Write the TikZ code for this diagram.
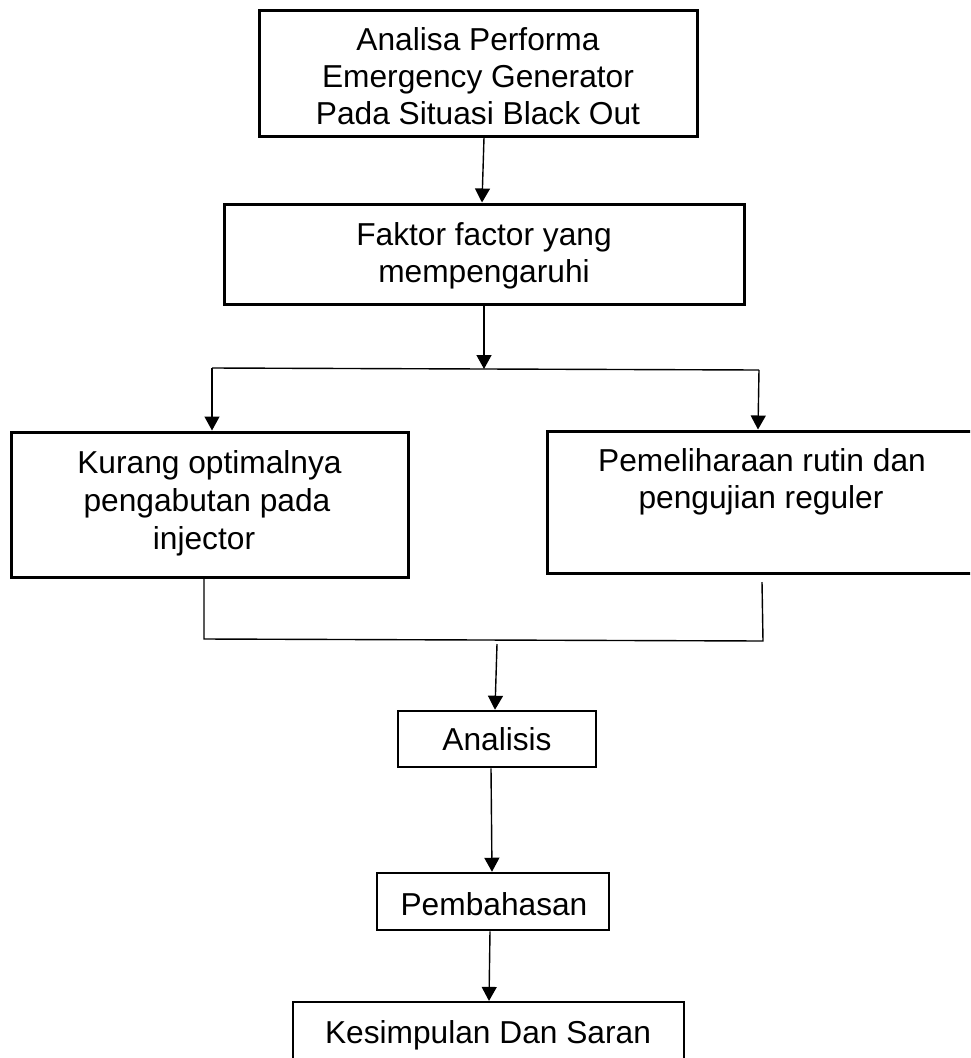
\documentclass[tikz,border=0pt]{standalone}
\usepackage{fontspec}
\setmainfont{Liberation Sans}
\usetikzlibrary{arrows.meta}
\tikzset{
  box/.style={draw=black, line width=3pt, rectangle, inner sep=0pt, fill=none},
  smallbox/.style={box, line width=2.5pt},
  txt/.style={font=\fontsize{31.7}{38}\selectfont, inner sep=0pt, anchor=base},
  conn/.style={draw=black, line width=1.4pt},
  arr/.style={conn, -{Triangle[width=15pt,length=14pt]}}
}
\begin{document}
\begin{tikzpicture}[x=1pt,y=-1pt]
\useasboundingbox (0,0) rectangle (970,1058);
\clip (0,0) rectangle (970,1058);
\fill[white] (0,0) rectangle (970,1058);

% boxes
\node[box, minimum width=438pt, minimum height=126pt] (b1) at (478,73) {};
\node[box, minimum width=520pt, minimum height=100pt] (b2) at (484,254) {};
\node[box, minimum width=397pt, minimum height=145pt] (b3) at (209.5,504.5) {};
\node[box, minimum width=438pt, minimum height=142pt] (b4) at (766,502) {};
\node[smallbox, minimum width=198pt, minimum height=56pt] (b5) at (497,739) {};
\node[smallbox, minimum width=232pt, minimum height=57pt] (b6) at (493,901.5) {};
\node[smallbox, line width=2.2pt, minimum width=391pt, minimum height=80pt] (b7) at (488.5,1042) {};

% texts
\node[txt] (t1a) at (478,50) {Analisa Performa};
\node[txt] (t1b) at (478,87.5) {Emergency Generator};
\node[txt] (t1c) at (478,124.5) {Pada Situasi Black Out};
\node[txt] (t2a) at (484,245) {Faktor factor yang};
\node[txt] (t2b) at (484,282) {mempengaruhi};
\node[txt] (t3a) at (209.5,473) {Kurang optimalnya};
\node[txt] (t3b) at (207,511) {pengabutan pada};
\node[txt] (t3c) at (204,549) {injector};
\node[txt] (t4a) at (762,471) {Pemeliharaan rutin dan};
\node[txt] (t4b) at (761,508) {pengujian reguler};
\node[txt] (t5) at (497,750) {Analisis};
\node[txt] (t6) at (494,915) {Pembahasan};
\node[txt] (t7) at (488,1043) {Kesimpulan Dan Saran};

% junction coordinates
\coordinate (j1l) at (212,368);
\coordinate (j1m) at (484,369);
\coordinate (j1r) at (759,370);
\coordinate (c3) at (204,639);
\coordinate (c4) at (763,641);
\coordinate (c4r) at (762,582);
\coordinate (c5) at (497,644);

% connectors
\draw[arr] ([xshift=6pt]b1.south) -- ([xshift=-2pt]b2.north);
\draw[arr] (b2.south) -- (j1m);
\draw[conn] (j1l) -- (j1r);
\draw[arr] (j1l) -- ([xshift=2.5pt]b3.north);
\draw[arr] (j1r) -- ([xshift=-8pt]b4.north);
\draw[conn] ([xshift=-5.5pt,yshift=2pt]b3.south) -- (c3) -- (c4) -- (c4r);
\draw[arr] (c5) -- ([xshift=-2pt]b5.north);
\draw[arr] ([xshift=-6pt]b5.south) -- ([xshift=-1pt]b6.north);
\draw[arr] ([xshift=-3pt]b6.south) -- ([xshift=0.5pt]b7.north);
\end{tikzpicture}
\end{document}
